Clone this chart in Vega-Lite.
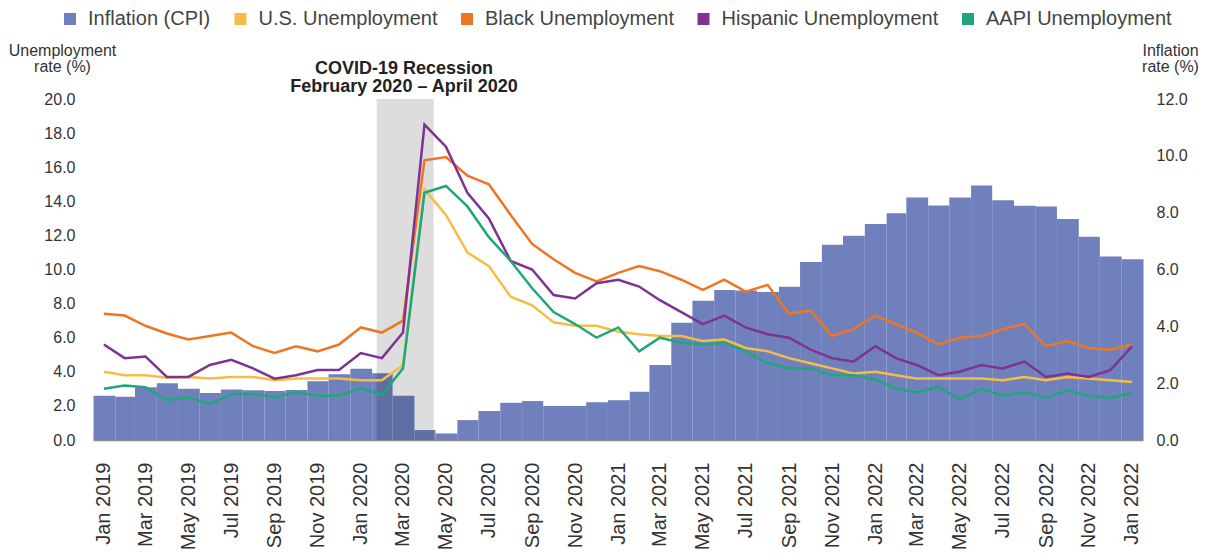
{
  "$schema": "https://vega.github.io/schema/vega-lite/v6.json",
  "width": 1050,
  "height": 341,
  "autosize": {"type": "none"},
  "padding": {"left": 93, "top": 99, "right": 65, "bottom": 114},
  "background": "white",
  "config": {
    "view": {"stroke": null},
    "font": "Liberation Sans",
    "axis": {"grid": false, "ticks": false, "tickSize": 0, "labelOverlap": false, "labelColor": "#333333", "titleColor": "#333333", "labelFont": "Liberation Sans", "titleFont": "Liberation Sans", "titleFontWeight": "normal"}
  },
  "data": {
    "values": [
      {"month": "2019-01-01", "cpi": 1.56, "us": 4.0, "black": 7.4, "hisp": 5.6, "aapi": 3.0},
      {"month": "2019-02-01", "cpi": 1.52, "us": 3.8, "black": 7.3, "hisp": 4.8, "aapi": 3.2},
      {"month": "2019-03-01", "cpi": 1.86, "us": 3.8, "black": 6.7, "hisp": 4.9, "aapi": 3.1},
      {"month": "2019-04-01", "cpi": 2.0, "us": 3.65, "black": 6.25, "hisp": 3.7, "aapi": 2.35},
      {"month": "2019-05-01", "cpi": 1.8, "us": 3.7, "black": 5.9, "hisp": 3.7, "aapi": 2.5},
      {"month": "2019-06-01", "cpi": 1.65, "us": 3.6, "black": 6.1, "hisp": 4.4, "aapi": 2.1},
      {"month": "2019-07-01", "cpi": 1.78, "us": 3.7, "black": 6.3, "hisp": 4.7, "aapi": 2.7},
      {"month": "2019-08-01", "cpi": 1.75, "us": 3.7, "black": 5.5, "hisp": 4.2, "aapi": 2.7},
      {"month": "2019-09-01", "cpi": 1.72, "us": 3.5, "black": 5.1, "hisp": 3.6, "aapi": 2.5},
      {"month": "2019-10-01", "cpi": 1.76, "us": 3.6, "black": 5.5, "hisp": 3.8, "aapi": 2.8},
      {"month": "2019-11-01", "cpi": 2.07, "us": 3.6, "black": 5.2, "hisp": 4.1, "aapi": 2.6},
      {"month": "2019-12-01", "cpi": 2.31, "us": 3.6, "black": 5.6, "hisp": 4.1, "aapi": 2.6},
      {"month": "2020-01-01", "cpi": 2.51, "us": 3.5, "black": 6.6, "hisp": 5.1, "aapi": 3.05},
      {"month": "2020-02-01", "cpi": 2.35, "us": 3.5, "black": 6.3, "hisp": 4.8, "aapi": 2.65},
      {"month": "2020-03-01", "cpi": 1.56, "us": 4.4, "black": 7.0, "hisp": 6.3, "aapi": 4.2},
      {"month": "2020-04-01", "cpi": 0.35, "us": 14.7, "black": 16.4, "hisp": 18.5, "aapi": 14.5},
      {"month": "2020-05-01", "cpi": 0.23, "us": 13.2, "black": 16.6, "hisp": 17.2, "aapi": 14.9},
      {"month": "2020-06-01", "cpi": 0.7, "us": 11.0, "black": 15.5, "hisp": 14.5, "aapi": 13.7},
      {"month": "2020-07-01", "cpi": 1.02, "us": 10.2, "black": 15.0, "hisp": 13.0, "aapi": 11.9},
      {"month": "2020-08-01", "cpi": 1.31, "us": 8.4, "black": 13.2, "hisp": 10.5, "aapi": 10.5},
      {"month": "2020-09-01", "cpi": 1.37, "us": 7.9, "black": 11.5, "hisp": 10.0, "aapi": 8.9},
      {"month": "2020-10-01", "cpi": 1.2, "us": 6.9, "black": 10.6, "hisp": 8.5, "aapi": 7.5},
      {"month": "2020-11-01", "cpi": 1.2, "us": 6.7, "black": 9.8, "hisp": 8.3, "aapi": 6.8},
      {"month": "2020-12-01", "cpi": 1.33, "us": 6.7, "black": 9.3, "hisp": 9.2, "aapi": 6.0},
      {"month": "2021-01-01", "cpi": 1.4, "us": 6.35, "black": 9.8, "hisp": 9.4, "aapi": 6.6},
      {"month": "2021-02-01", "cpi": 1.7, "us": 6.2, "black": 10.2, "hisp": 9.0, "aapi": 5.2},
      {"month": "2021-03-01", "cpi": 2.64, "us": 6.1, "black": 9.9, "hisp": 8.2, "aapi": 6.0},
      {"month": "2021-04-01", "cpi": 4.13, "us": 6.1, "black": 9.4, "hisp": 7.5, "aapi": 5.7},
      {"month": "2021-05-01", "cpi": 4.9, "us": 5.8, "black": 8.8, "hisp": 6.8, "aapi": 5.6},
      {"month": "2021-06-01", "cpi": 5.28, "us": 5.9, "black": 9.4, "hisp": 7.3, "aapi": 5.7},
      {"month": "2021-07-01", "cpi": 5.26, "us": 5.4, "black": 8.7, "hisp": 6.6, "aapi": 5.2},
      {"month": "2021-08-01", "cpi": 5.21, "us": 5.2, "black": 9.1, "hisp": 6.2, "aapi": 4.5},
      {"month": "2021-09-01", "cpi": 5.39, "us": 4.8, "black": 7.4, "hisp": 6.0, "aapi": 4.2},
      {"month": "2021-10-01", "cpi": 6.26, "us": 4.5, "black": 7.6, "hisp": 5.3, "aapi": 4.2},
      {"month": "2021-11-01", "cpi": 6.87, "us": 4.2, "black": 6.1, "hisp": 4.8, "aapi": 3.8},
      {"month": "2021-12-01", "cpi": 7.19, "us": 3.9, "black": 6.5, "hisp": 4.6, "aapi": 3.8},
      {"month": "2022-01-01", "cpi": 7.6, "us": 4.0, "black": 7.3, "hisp": 5.5, "aapi": 3.55},
      {"month": "2022-02-01", "cpi": 7.98, "us": 3.8, "black": 6.8, "hisp": 4.8, "aapi": 3.0},
      {"month": "2022-03-01", "cpi": 8.53, "us": 3.6, "black": 6.3, "hisp": 4.4, "aapi": 2.8},
      {"month": "2022-04-01", "cpi": 8.25, "us": 3.6, "black": 5.6, "hisp": 3.8, "aapi": 3.1},
      {"month": "2022-05-01", "cpi": 8.53, "us": 3.6, "black": 6.0, "hisp": 4.0, "aapi": 2.4},
      {"month": "2022-06-01", "cpi": 8.96, "us": 3.6, "black": 6.1, "hisp": 4.4, "aapi": 3.0},
      {"month": "2022-07-01", "cpi": 8.44, "us": 3.5, "black": 6.5, "hisp": 4.2, "aapi": 2.6},
      {"month": "2022-08-01", "cpi": 8.24, "us": 3.7, "black": 6.8, "hisp": 4.6, "aapi": 2.8},
      {"month": "2022-09-01", "cpi": 8.22, "us": 3.5, "black": 5.5, "hisp": 3.7, "aapi": 2.5},
      {"month": "2022-10-01", "cpi": 7.78, "us": 3.7, "black": 5.8, "hisp": 3.9, "aapi": 2.9},
      {"month": "2022-11-01", "cpi": 7.15, "us": 3.6, "black": 5.4, "hisp": 3.7, "aapi": 2.6},
      {"month": "2022-12-01", "cpi": 6.46, "us": 3.5, "black": 5.3, "hisp": 4.1, "aapi": 2.45},
      {"month": "2023-01-01", "cpi": 6.36, "us": 3.4, "black": 5.6, "hisp": 5.5, "aapi": 2.8}
    ]
  },
  "layer": [
    {
      "mark": {"type": "bar", "binSpacing": 0},
      "encoding": {
        "x": {
          "field": "month",
          "timeUnit": "utcyearmonth",
          "type": "temporal",
          "scale": {"type": "utc", "domain": [{"year": 2019, "month": 1, "date": 1, "utc": true}, {"year": 2023, "month": 2, "date": 1, "utc": true}]},
          "axis": {
            "title": null,
            "tickCount": {"interval": "month", "step": 2},
            "labelExpr": "utcFormat(datum.value, '%b %Y') == 'Jan 2023' ? 'Jan 2022' : utcFormat(datum.value, '%b %Y')",
            "labelAngle": -90,
            "labelFontSize": 20,
            "labelPadding": 22,
            "labelOffset": 10.7,
            "labelOverlap": false,
            "labelFlush": false,
            "labelBound": false,
            "domain": true,
            "domainColor": "#8a8a8a",
            "domainWidth": 1.5
          }
        },
        "y": {
          "field": "cpi",
          "type": "quantitative",
          "scale": {"domain": [0, 12], "nice": false},
          "axis": {
            "orient": "right",
            "values": [0, 2, 4, 6, 8, 10, 12],
            "format": ".1f",
            "domain": false,
            "labelOverlap": false,
            "labelFontSize": 16,
            "labelPadding": 13,
            "title": ["Inflation", "rate (%)"],
            "titleAngle": 0,
            "titleAlign": "center",
            "titleBaseline": "alphabetic",
            "titleX": 27,
            "titleY": -44,
            "titleFontSize": 16,
            "titleLineHeight": 16
          }
        },
        "color": {
          "datum": "cpi",
          "type": "nominal",
          "scale": {"domain": ["cpi", "us", "black", "hisp", "aapi"], "range": ["#6f80bd", "#f4bd45", "#ee7623", "#7e3393", "#1fa67a"]},
          "legend": {
            "title": null,
            "orient": "none",
            "legendX": -33,
            "legendY": -90,
            "direction": "horizontal",
            "padding": 0,
            "symbolType": "square",
            "symbolSize": 144,
            "symbolStrokeWidth": 0,
            "symbolOpacity": 1,
            "labelFontSize": 20,
            "labelFont": "Liberation Sans",
            "labelColor": "#444444",
            "labelOffset": 8,
            "labelLimit": 400,
            "columnPadding": 19.5,
            "labelExpr": "datum.label == 'cpi' ? 'Inflation (CPI)' : datum.label == 'us' ? 'U.S. Unemployment' : datum.label == 'black' ? 'Black Unemployment' : datum.label == 'hisp' ? 'Hispanic Unemployment' : 'AAPI Unemployment'",
            "encode": {"symbols": {"update": {"fill": {"signal": "datum.value == 'cpi' ? '#4a60ad' : scale('color', datum.value)"}, "opacity": {"value": 1}}}}
          }
        }
      }
    },
    {
      "layer": [
        {
          "data": {"values": [{"start": "2020-02-08", "end": "2020-04-29"}]},
          "mark": {"type": "rect", "color": "#000000", "opacity": 0.135},
          "encoding": {
            "x": {"field": "start", "type": "temporal"},
            "x2": {"field": "end"}
          }
        },
        {
          "transform": [{"fold": ["us", "black", "hisp", "aapi"], "as": ["series", "rate"]}],
          "mark": {"type": "line", "strokeWidth": 2.5},
          "encoding": {
            "x": {"field": "month", "timeUnit": "utcyearmonth", "type": "temporal", "bandPosition": 0.5},
            "y": {
              "field": "rate",
              "type": "quantitative",
              "scale": {"domain": [0, 20], "nice": false},
              "axis": {
                "orient": "left",
                "values": [0, 2, 4, 6, 8, 10, 12, 14, 16, 18, 20],
                "format": ".1f",
                "domain": false,
                "labelOverlap": false,
                "labelFontSize": 16,
                "labelPadding": 18,
                "title": ["Unemployment", "rate (%)"],
                "titleAngle": 0,
                "titleAlign": "center",
                "titleBaseline": "alphabetic",
                "titleX": -31,
                "titleY": -44,
                "titleFontSize": 16,
                "titleLineHeight": 16
              }
            },
            "color": {
              "field": "series",
              "type": "nominal",
              "legend": {
                "title": null,
                "orient": "none",
                "legendX": -33,
                "legendY": -90,
                "direction": "horizontal",
                "padding": 0,
                "symbolType": "square",
                "symbolSize": 144,
                "symbolStrokeWidth": 0,
                "symbolOpacity": 1,
                "labelFontSize": 20,
                "labelFont": "Liberation Sans",
                "labelColor": "#444444",
                "labelOffset": 8,
                "labelLimit": 400,
                "columnPadding": 19.5,
                "labelExpr": "datum.label == 'cpi' ? 'Inflation (CPI)' : datum.label == 'us' ? 'U.S. Unemployment' : datum.label == 'black' ? 'Black Unemployment' : datum.label == 'hisp' ? 'Hispanic Unemployment' : 'AAPI Unemployment'"
              }
            }
          }
        },
        {
          "data": {"values": [{"mid": "2020-03-18", "label": "COVID-19 Recession\nFebruary 2020 – April 2020"}]},
          "mark": {"type": "text", "align": "center", "baseline": "alphabetic", "fontSize": 18, "fontWeight": "bold", "color": "#222222", "lineBreak": "\n", "lineHeight": 18, "font": "Liberation Sans"},
          "encoding": {
            "x": {"field": "mid", "type": "temporal"},
            "y": {
              "datum": 21.45,
              "type": "quantitative",
              "axis": {
                "orient": "left",
                "values": [0, 2, 4, 6, 8, 10, 12, 14, 16, 18, 20],
                "format": ".1f",
                "domain": false,
                "labelOverlap": false,
                "labelFontSize": 16,
                "labelPadding": 18,
                "title": ["Unemployment", "rate (%)"],
                "titleAngle": 0,
                "titleAlign": "center",
                "titleBaseline": "alphabetic",
                "titleX": -31,
                "titleY": -44,
                "titleFontSize": 16,
                "titleLineHeight": 16
              }
            },
            "text": {"field": "label", "type": "nominal"}
          }
        }
      ]
    }
  ],
  "resolve": {"scale": {"y": "independent"}}
}
